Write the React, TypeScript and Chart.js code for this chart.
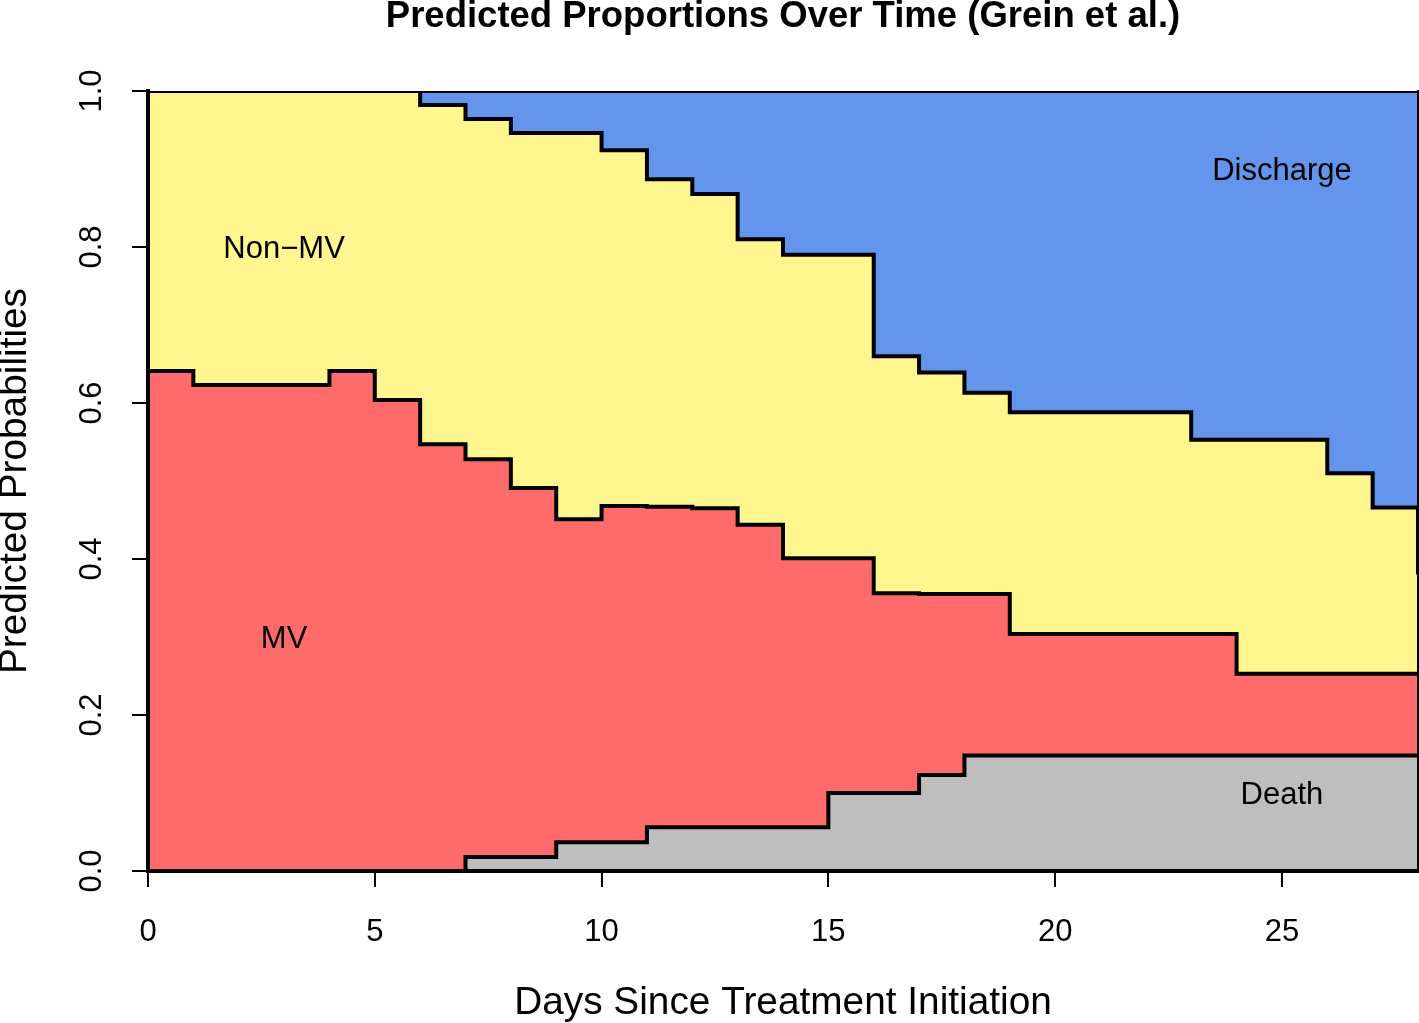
import React, { useEffect, useRef } from "react";
import { Chart, registerables } from "chart.js";

Chart.register(...registerables);

// ---- Data ----
const days = [0, 1, 2, 3, 4, 5, 6, 7, 8, 9, 10, 11, 12, 13, 14, 15, 16, 17, 18, 19, 20, 21, 22, 23, 24, 25, 26, 27, 28];

// cumulative upper boundary of each state (stacked from the bottom)
const deathUpper = [0, 0, 0, 0, 0, 0, 0, 0.018, 0.018, 0.037, 0.037, 0.056, 0.056, 0.056, 0.056, 0.1, 0.1, 0.123, 0.148, 0.148, 0.148, 0.148, 0.148, 0.148, 0.148, 0.148, 0.148, 0.148, 0.148];
const mvUpper = [0.641, 0.623, 0.623, 0.623, 0.641, 0.604, 0.547, 0.528, 0.491, 0.451, 0.468, 0.467, 0.465, 0.444, 0.401, 0.401, 0.356, 0.355, 0.355, 0.304, 0.304, 0.304, 0.304, 0.304, 0.253, 0.253, 0.253, 0.253, 0.253];
const nonMvUpper = [1, 1, 1, 1, 1, 1, 0.982, 0.964, 0.946, 0.946, 0.924, 0.887, 0.868, 0.81, 0.79, 0.79, 0.66, 0.639, 0.613, 0.588, 0.588, 0.588, 0.588, 0.553, 0.553, 0.553, 0.51, 0.466, 0.38];
const totalUpper = 1;

const stateNames = ["Death", "MV", "Non\u2212MV", "Discharge"];
const stateColors = ["#BEBEBE", "#FF6A6A", "#FFF68F", "#6495ED"];
const labelDays = [25, 3, 3, 25];
const labelProbs = [0.1, 0.3, 0.8, 0.9];

const xTicks = [0, 5, 10, 15, 20, 25];
const yTicks = [0, 0.2, 0.4, 0.6, 0.8, 1.0];

const titleText = "Predicted Proportions Over Time (Grein et al.)";
const xTitle = "Days Since Treatment Initiation";
const yTitle = "Predicted Probabilities";

const FONT = '"Liberation Sans", Arial, Helvetica, sans-serif';

export default function App() {
  const canvasRef = useRef<HTMLCanvasElement | null>(null);

  useEffect(() => {
    document.body.style.margin = "0";
    document.body.style.overflow = "hidden";
    const canvas = canvasRef.current;
    if (!canvas) return;

    Chart.defaults.font.family = FONT;
    Chart.defaults.color = "#000";

    const toPts = (arr: number[]) => days.map((d, i) => ({ x: d, y: arr[i] }));
    const uppers = [deathUpper, mvUpper, nonMvUpper, days.map(() => totalUpper)];

    const datasets = uppers.map((arr, k) => ({
      label: stateNames[k],
      data: toPts(arr),
      stepped: true as const,
      borderColor: "#000",
      borderWidth: 4,
      borderJoinStyle: "miter" as const,
      backgroundColor: stateColors[k],
      fill: k === 0 ? "origin" : "-1",
      pointRadius: 0,
      pointHoverRadius: 0,
    }));

    const textPlugin = {
      id: "textLabels",
      afterDatasetsDraw(chart: any) {
        const { ctx, chartArea, scales } = chart;
        ctx.save();
        ctx.fillStyle = "#000";
        ctx.textAlign = "center";
        ctx.textBaseline = "middle";
        ctx.font = `31px ${FONT}`;
        stateNames.forEach((name, i) => {
          ctx.fillText(name, scales.x.getPixelForValue(labelDays[i]), scales.y.getPixelForValue(labelProbs[i]) + 2);
        });
        ctx.font = `bold 36.5px ${FONT}`;
        ctx.fillText(titleText, (chartArea.left + chartArea.right) / 2, 17);
        ctx.restore();
      },
    };

    const chart = new Chart(canvas, {
      type: "line",
      data: { datasets: datasets as any },
      options: {
        responsive: false,
        animation: false,
        devicePixelRatio: 1,
        layout: { padding: { left: 0, right: 0, top: 91, bottom: 0 } },
        plugins: {
          legend: { display: false },
          tooltip: { enabled: false },
          title: { display: false },
        },
        scales: {
          x: {
            type: "linear",
            min: 0,
            max: 28,
            afterBuildTicks: (s: any) => {
              s.ticks = xTicks.map((v) => ({ value: v }));
            },
            afterFit: (s: any) => {
              s.height = 152;
            },
            grid: {
              drawOnChartArea: false,
              drawTicks: true,
              tickLength: 16,
              tickColor: "#000",
              tickWidth: 2,
              color: "#000",
              lineWidth: 2,
              z: 1,
            },
            border: { display: true, color: "#000", width: 4, z: 1 },
            ticks: {
              color: "#000",
              font: { size: 31, lineHeight: 1.2 },
              padding: 27,
              maxRotation: 0,
              minRotation: 0,
              autoSkip: false,
              z: 1,
              callback: (v: any) => String(v),
            },
            title: {
              display: true,
              text: xTitle,
              color: "#000",
              font: { size: 38.8, lineHeight: 1.0 },
              padding: 0,
            },
          },
          y: {
            type: "linear",
            position: "left",
            min: 0,
            max: 1,
            afterBuildTicks: (s: any) => {
              s.ticks = yTicks.map((v) => ({ value: v }));
            },
            afterFit: (s: any) => {
              s.width = 148;
            },
            grid: {
              drawOnChartArea: false,
              drawTicks: true,
              tickLength: 16,
              tickColor: "#000",
              tickWidth: 2,
              color: "#000",
              lineWidth: 2,
              z: 1,
            },
            border: { display: true, color: "#000", width: 4, z: 1 },
            ticks: {
              color: "#000",
              font: { size: 31, lineHeight: 1.2 },
              padding: 18,
              minRotation: 90,
              maxRotation: 90,
              crossAlign: "center",
              autoSkip: false,
              z: 1,
              callback: (v: any) => Number(v).toFixed(1),
            },
            title: {
              display: true,
              text: yTitle,
              color: "#000",
              font: { size: 38.8, lineHeight: 0.8 },
              padding: 0,
            },
          },
          y2: {
            type: "linear",
            position: "right",
            min: 0,
            max: 1,
            afterFit: (s: any) => {
              s.width = 1;
            },
            grid: { drawOnChartArea: false, drawTicks: false, lineWidth: 0 },
            border: { display: true, color: "#000", width: 3, z: 1 },
            ticks: { display: false },
            title: { display: false },
          },
        },
      } as any,
      plugins: [textPlugin],
    });

    return () => chart.destroy();
  }, []);

  return (
    <div style={{ position: "absolute", left: 0, top: 0, width: 1419, height: 1023 }}>
      <canvas ref={canvasRef} width={1419} height={1023} style={{ display: "block", width: 1419, height: 1023 }} />
    </div>
  );
}
